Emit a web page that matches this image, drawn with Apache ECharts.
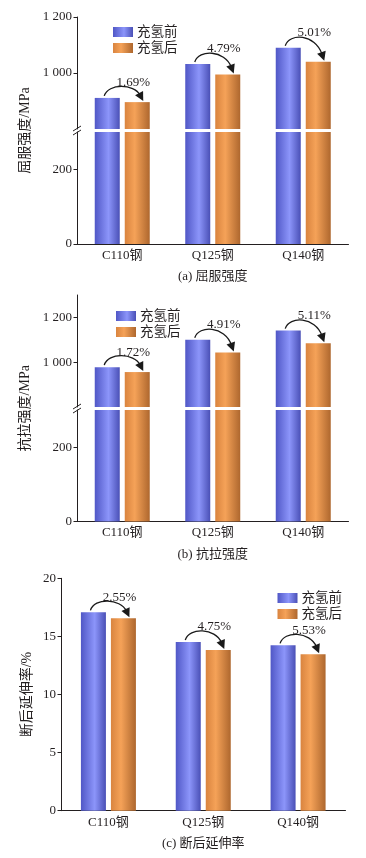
<!DOCTYPE html>
<html>
<head>
<meta charset="utf-8">
<script src="https://cdn.jsdelivr.net/npm/echarts@6/dist/echarts.min.js"></script>
<style>
html,body{margin:0;padding:0;background:#fff;}
#main{width:366px;height:858px;}
</style>
</head>
<body>
<div id="main"></div>
<script>
// ---- data ----
const categories = ['C110钢', 'Q125钢', 'Q140钢'];
const legendNames = ['充氢前', '充氢后'];
const yieldBefore = [911, 1032, 1090];
const yieldAfter = [896, 995, 1040];
const yieldPct = ['1.69%', '4.79%', '5.01%'];
const tensileBefore = [978, 1100, 1141];
const tensileAfter = [956, 1043, 1085];
const tensilePct = ['1.72%', '4.91%', '5.11%'];
const elongBefore = [17.07, 14.52, 14.23];
const elongAfter = [16.56, 13.83, 13.46];
const elongPct = ['2.55%', '4.75%', '5.53%'];
const upperTicks = [1000, 1200];
const lowerTicks = [0, 200];
const yNames = ['屈服强度/MPa', '抗拉强度/MPa', '断后延伸率/%'];
const captions = ['(a) 屈服强度', '(b) 抗拉强度', '(c) 断后延伸率'];

// ---- styles / layout ----
const FONT = '"Liberation Serif", "Noto Sans CJK SC", serif';
const INK = '#231f20';
const blueGrad = new echarts.graphic.LinearGradient(0, 0, 1, 0, [
  {offset: 0, color: '#5057c6'}, {offset: 0.55, color: '#8c95fa'}, {offset: 1, color: '#4a50b6'}]);
const orangeGrad = new echarts.graphic.LinearGradient(0, 0, 1, 0, [
  {offset: 0, color: '#d9843f'}, {offset: 0.4, color: '#f5a258'}, {offset: 1, color: '#ae672e'}]);

const grids = [
  {left: 77, right: 17.5, top: 17, height: 112},     // A upper
  {left: 77, right: 17.5, top: 132, height: 112},    // A lower
  {left: 77, right: 17.5, top: 295, height: 112},    // B upper
  {left: 77, right: 17.5, top: 410, height: 111.5},  // B lower
  {left: 61, right: 20.5, top: 578.3, height: 232.4} // C
];

function fmt(v) {
  return v >= 1000 ? Math.floor(v / 1000) + ' ' + String(v % 1000).padStart(3, '0') : String(v);
}

const axisLineStyle = {lineStyle: {color: INK, width: 1}};
const labelStyle = {color: INK, fontFamily: FONT, fontSize: 13};

const xAxes = grids.map((g, i) => {
  const showAx = (i === 1 || i === 3 || i === 4);
  return {
    gridIndex: i, type: 'category', data: categories, show: showAx,
    axisLine: axisLineStyle, axisTick: {show: false},
    axisLabel: Object.assign({margin: 5}, labelStyle)
  };
});

function yAx(i, min, max, ticks, interval) {
  const o = {
    gridIndex: i, type: 'value', min: min, max: max,
    axisLine: {show: true, lineStyle: {color: INK, width: 1}},
    axisTick: {show: true, length: 3.5, lineStyle: {color: INK}},
    splitLine: {show: false},
    axisLabel: Object.assign({margin: 5, formatter: fmt}, labelStyle)
  };
  if (ticks) {
    o.axisTick.customValues = ticks;
    o.axisLabel.customValues = ticks;
  } else {
    o.interval = interval;
  }
  return o;
}

const yAxes = [
  yAx(0, 800, 1200, upperTicks),
  yAx(1, 0, 300, lowerTicks),
  yAx(2, 800, 1300, upperTicks),
  yAx(3, 0, 300, lowerTicks),
  yAx(4, 0, 20, null, 5)
];

function barPair(i, before, after) {
  return [
    {name: legendNames[0], type: 'bar', xAxisIndex: i, yAxisIndex: i, data: before,
     barWidth: 25, barGap: '20%', itemStyle: {color: blueGrad}},
    {name: legendNames[1], type: 'bar', xAxisIndex: i, yAxisIndex: i, data: after,
     barWidth: 25, barGap: '20%', itemStyle: {color: orangeGrad}}
  ];
}

function arrowSeries(i, before, after, pct) {
  return {
    name: 'arrow' + i, type: 'custom', xAxisIndex: i, yAxisIndex: i, clip: false, z: 5,
    data: categories.map((c, k) => [k, before[k], after[k]]),
    renderItem: function (params, api) {
      const k = api.value(0);
      const pb = api.coord([k, api.value(1)]);
      const pa = api.coord([k, api.value(2)]);
      const cx = pb[0];
      const bx = cx - 15, ox = cx + 15;
      const bt = pb[1], ot = pa[1];
      const sx = bx - 3, sy = bt - 2;
      const ex = ox + 6, ey = ot - 1;
      const c1x = sx + 4, c1y = bt - 15;
      const c2x = ex - 9, c2y = bt - 14;
      // arrowhead
      let dx = ex - c2x, dy = ey - c2y;
      const len = Math.sqrt(dx * dx + dy * dy); dx /= len; dy /= len;
      const L = 9, W = 4.5;
      const bx0 = ex - dx * L, by0 = ey - dy * L;
      const nx = -dy, ny = dx;
      return {
        type: 'group',
        children: [
          {type: 'bezierCurve', shape: {x1: sx, y1: sy, cpx1: c1x, cpy1: c1y, cpx2: c2x, cpy2: c2y, x2: bx0 + dx * 2, y2: by0 + dy * 2},
           style: {stroke: '#1a1a1a', lineWidth: 1.3, fill: null}},
          {type: 'polygon', shape: {points: [[ex, ey], [bx0 + nx * W, by0 + ny * W], [bx0 - nx * W, by0 - ny * W]]},
           style: {fill: '#1a1a1a'}},
          {type: 'text', x: cx + 11, y: bt - 15,
           style: {text: pct[params.dataIndex], fill: INK, font: '13px ' + FONT, align: 'center', verticalAlign: 'middle'}}
        ]
      };
    }
  };
}

const series = [].concat(
  barPair(0, yieldBefore, yieldAfter), barPair(1, yieldBefore, yieldAfter),
  barPair(2, tensileBefore, tensileAfter), barPair(3, tensileBefore, tensileAfter),
  barPair(4, elongBefore, elongAfter),
  [arrowSeries(0, yieldBefore, yieldAfter, yieldPct),
   arrowSeries(2, tensileBefore, tensileAfter, tensilePct),
   arrowSeries(4, elongBefore, elongAfter, elongPct)]
);

function legendAt(left, top) {
  return {
    data: legendNames, left: left, top: top, orient: 'vertical', icon: 'rect',
    itemWidth: 20, itemHeight: 10, itemGap: 2, selectedMode: false,
    textStyle: {color: INK, fontFamily: FONT, fontSize: 13.5, lineHeight: 14, padding: [0, 0, 0, -1]}
  };
}

// graphics: y names, captions, break marks
const panelSpans = [[0, 1], [2, 3], [4, 4]];
const graphics = [];
panelSpans.forEach((sp, p) => {
  const gTop = grids[sp[0]], gBot = grids[sp[1]];
  const top = gTop.top, bottom = gBot.top + gBot.height;
  const xl = gBot.left, xr = 366 - gBot.right;
  graphics.push({type: 'text', x: p === 2 ? 27 : 25, y: (top + bottom) / 2, rotation: Math.PI / 2,
    style: {text: yNames[p], fill: INK, font: '14px ' + FONT, align: 'center', verticalAlign: 'middle'}});
  graphics.push({type: 'text', x: (xl + xr) / 2, y: bottom + 33,
    style: {text: captions[p], fill: INK, font: '13px ' + FONT, align: 'center', verticalAlign: 'middle'}});
  if (sp[0] !== sp[1]) {
    const yu = gTop.top + gTop.height - 0.5, yl = gBot.top + 0.5;
    [yu, yl].forEach(y => graphics.push({type: 'line', shape: {x1: xl - 4, y1: y + 2.5, x2: xl + 4, y2: y - 2.5},
      style: {stroke: INK, lineWidth: 1}}));
  }
});

const chart = echarts.init(document.getElementById('main'), null, {renderer: 'canvas'});
chart.setOption({
  animation: false,
  backgroundColor: '#fff',
  grid: grids,
  xAxis: xAxes,
  yAxis: yAxes,
  legend: [legendAt(108, 20), legendAt(111, 304), legendAt(272.5, 586)],
  series: series,
  graphic: graphics
});
</script>
</body>
</html>
